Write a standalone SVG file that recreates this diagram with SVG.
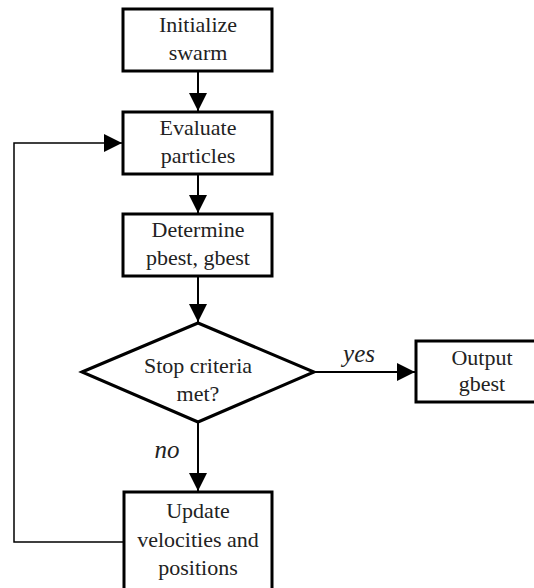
<svg xmlns="http://www.w3.org/2000/svg" width="534" height="588" viewBox="0 0 534 588">
  <style>
    .box { fill: #fff; stroke: #000; stroke-width: 3; }
    .lbl { font-family: "Liberation Serif", "DejaVu Serif", serif; font-size: 22px; fill: #222; text-anchor: middle; }
    .it { font-style: italic; font-size: 25px; }
    .wire { fill: none; stroke: #000; stroke-width: 2; }
    .loop { fill: none; stroke: #000; stroke-width: 1.5; }
  </style>
  <defs>
    <marker id="arrow" markerUnits="userSpaceOnUse" markerWidth="20" markerHeight="20" refX="18" refY="9" orient="auto">
      <path d="M0,0 L18,9 L0,18 z" fill="#000"/>
    </marker>
  </defs>
  <rect width="534" height="588" fill="#fff"/>

  <g id="connectors">
    <line class="wire" x1="198" y1="71" x2="198" y2="111" marker-end="url(#arrow)"/>
    <line class="wire" x1="198" y1="174" x2="198" y2="213" marker-end="url(#arrow)"/>
    <line class="wire" x1="198" y1="276" x2="198" y2="322" marker-end="url(#arrow)"/>
    <line class="wire" x1="314" y1="372" x2="415" y2="372" marker-end="url(#arrow)"/>
    <line class="wire" x1="198" y1="422" x2="198" y2="491" marker-end="url(#arrow)"/>
    <polyline class="loop" points="124,542 14,542 14,143 122,143" marker-end="url(#arrow)"/>
    <text class="lbl it" x="359" y="362">yes</text>
    <text class="lbl it" x="167" y="458">no</text>
  </g>

  <g id="init">
    <rect class="box" x="123" y="9" width="149" height="62"/>
    <text class="lbl" x="198" y="32">Initialize</text>
    <text class="lbl" x="198" y="60">swarm</text>
  </g>

  <g id="evaluate">
    <rect class="box" x="123" y="112" width="149" height="62"/>
    <text class="lbl" x="198" y="135">Evaluate</text>
    <text class="lbl" x="198" y="163">particles</text>
  </g>

  <g id="determine">
    <rect class="box" x="123" y="214" width="149" height="62"/>
    <text class="lbl" x="198" y="237">Determine</text>
    <text class="lbl" x="198" y="265">pbest, gbest</text>
  </g>

  <g id="stop">
    <polygon class="box" points="82,372 198,323 314,372 198,422"/>
    <text class="lbl" x="198" y="373">Stop criteria</text>
    <text class="lbl" x="198" y="401">met?</text>
  </g>

  <g id="output">
    <rect class="box" x="416" y="341" width="132" height="61"/>
    <text class="lbl" x="482" y="365">Output</text>
    <text class="lbl" x="482" y="391">gbest</text>
  </g>

  <g id="update">
    <rect class="box" x="124" y="492" width="148" height="110"/>
    <text class="lbl" x="198" y="518">Update</text>
    <text class="lbl" x="198" y="547">velocities and</text>
    <text class="lbl" x="198" y="575">positions</text>
  </g>
</svg>
